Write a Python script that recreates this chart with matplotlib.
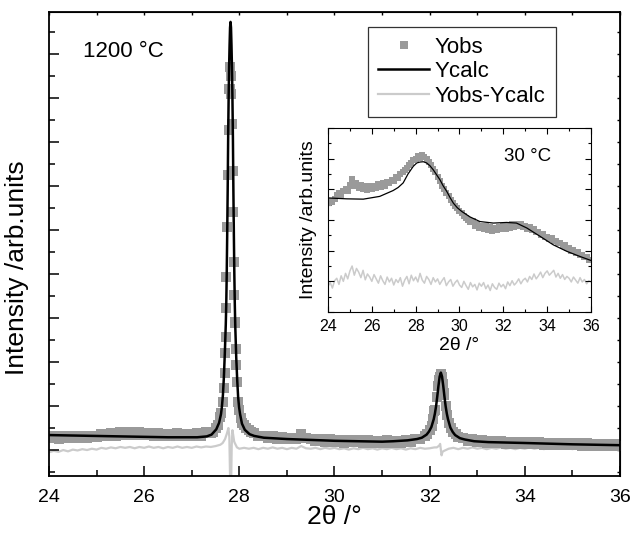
import numpy as np
import matplotlib
matplotlib.use('Agg')
import matplotlib.pyplot as plt
from matplotlib.ticker import MultipleLocator, NullFormatter

plt.rcParams['font.family'] = ['Liberation Sans', 'DejaVu Sans']

# ---- main pattern (1200 C), intensity in arbitrary units ----
grid = np.round(np.arange(24.0, 36.0001, 0.1), 2)

obs_grid = [
    0.28, 0.32, 0.26, 0.31, 0.27, 0.33, 0.28, 0.31, 0.27, 0.33,
    0.30, 0.36, 0.31, 0.39, 0.33, 0.40, 0.34, 0.41, 0.35, 0.40,
    0.34, 0.39, 0.33, 0.38, 0.32, 0.37, 0.33, 0.38, 0.31, 0.36,
    0.32, 0.38, 0.33, 0.40, 0.38, 0.50, 0.75, 2.20, 8.20, 2.90,
    0.90, 0.58, 0.45, 0.38, 0.31, 0.33, 0.27, 0.31, 0.25, 0.30,
    0.24, 0.28, 0.26, 0.36, 0.27, 0.25, 0.20, 0.25, 0.19, 0.24,
    0.18, 0.23, 0.17, 0.23, 0.18, 0.22, 0.17, 0.22, 0.16, 0.21,
    0.17, 0.22, 0.16, 0.21, 0.17, 0.23, 0.19, 0.26, 0.25, 0.33,
    0.45, 0.88, 1.60, 1.30, 0.62, 0.40, 0.30, 0.27, 0.21, 0.24,
    0.18, 0.22, 0.16, 0.21, 0.15, 0.20, 0.14, 0.19, 0.14, 0.19,
    0.13, 0.18, 0.13, 0.18, 0.12, 0.17, 0.12, 0.17, 0.11, 0.16,
    0.11, 0.15, 0.10, 0.15, 0.10, 0.14, 0.09, 0.14, 0.09, 0.13,
    0.10]

# extra observed points on the two peaks
obs_pk_x = [27.45, 27.55, 27.62, 27.65, 27.67, 27.69, 27.71, 27.72, 27.73,
            27.745, 27.76, 27.775, 27.79, 27.81, 27.82, 27.835, 27.85, 27.86,
            27.87, 27.88, 27.89, 27.90, 27.92, 27.94, 27.96, 27.98, 28.03,
            28.06, 28.15, 28.25,
            31.95, 32.05, 32.08, 32.12, 32.15, 32.18, 32.21, 32.24, 32.26,
            32.28, 32.31, 32.34, 32.37, 32.45, 32.55]
obs_pk_y = [0.42, 0.58, 0.85, 1.10, 1.40, 1.75, 2.57, 3.23, 3.93,
            5.07, 6.25, 7.27, 8.20, 8.70, 8.50, 8.10, 7.40, 6.35,
            5.41, 4.27, 3.52, 2.89, 2.30, 1.93, 1.55, 1.10, 0.72,
            0.62, 0.50, 0.42,
            0.36, 0.55, 0.70, 0.92, 1.20, 1.45, 1.65, 1.72, 1.66,
            1.50, 1.25, 1.00, 0.80, 0.50, 0.36]

calc_x = [24.0, 24.5, 25.0, 25.5, 26.0, 26.5, 27.0, 27.115, 27.315, 27.415,
          27.515, 27.575, 27.615, 27.635, 27.655, 27.675, 27.695, 27.715,
          27.725, 27.735, 27.745, 27.755, 27.765, 27.775, 27.785, 27.795,
          27.805, 27.815, 27.825, 27.835, 27.845, 27.855, 27.865, 27.875,
          27.885, 27.895, 27.905, 27.915, 27.935, 27.955, 27.975, 27.995,
          28.015, 28.055, 28.115, 28.215, 28.315, 28.515, 29.0, 29.5, 30.0,
          30.5, 31.0, 31.235, 31.535, 31.735, 31.835, 31.935, 31.985, 32.035,
          32.085, 32.11, 32.135, 32.16, 32.185, 32.21, 32.235, 32.26, 32.285,
          32.31, 32.335, 32.36, 32.385, 32.435, 32.485, 32.535, 32.635,
          32.735, 32.935, 33.235, 34.0, 35.0, 36.0]
calc_y = [0.34, 0.33, 0.32, 0.31, 0.30, 0.29, 0.29, 0.29, 0.31, 0.35,
          0.47, 0.62, 0.82, 1.00, 1.25, 1.65, 2.20, 2.85,
          3.30, 4.00, 4.90, 5.90, 7.10, 8.00, 8.70, 9.20,
          9.60, 9.73, 9.60, 9.20, 8.70, 8.00, 7.10, 5.90,
          4.90, 4.00, 3.30, 2.80, 2.10, 1.60, 1.20, 0.97,
          0.82, 0.60, 0.46, 0.36, 0.32, 0.28, 0.25, 0.23, 0.21,
          0.20, 0.19, 0.20, 0.22, 0.25, 0.28, 0.35, 0.42, 0.52,
          0.70, 0.83, 1.00, 1.22, 1.46, 1.67, 1.76, 1.67, 1.46,
          1.22, 1.00, 0.83, 0.70, 0.51, 0.41, 0.34, 0.27,
          0.24, 0.20, 0.18, 0.16, 0.13, 0.11]

diff_grid = [
    -0.05, -0.02, -0.04, 0.00, -0.03, 0.01, -0.01, 0.02, 0.00, 0.03,
    0.01, 0.05, 0.03, 0.06, 0.04, 0.07, 0.05, 0.07, 0.04, 0.07,
    0.05, 0.08, 0.05, 0.07, 0.04, 0.07, 0.05, 0.08, 0.05, 0.07,
    0.05, 0.08, 0.06, 0.08, 0.07, 0.09, 0.12, 0.25, -0.30, 0.17,
    0.03, 0.05, 0.03, 0.05, 0.02, 0.05, 0.03, 0.06, 0.03, 0.05,
    0.02, 0.05, 0.03, 0.09, 0.04, 0.03, 0.05, 0.02, 0.05, 0.03,
    0.05, 0.02, 0.04, 0.01, 0.04, 0.02, 0.05, 0.02, 0.04, 0.01,
    0.04, 0.02, 0.05, 0.02, 0.04, 0.01, 0.04, 0.02, 0.05, 0.03,
    0.04, 0.06, 0.10, -0.02, 0.03, 0.05, 0.02, 0.05, 0.03, 0.06,
    0.03, 0.05, 0.02, 0.05, 0.03, 0.06, 0.03, 0.05, 0.02, 0.05,
    0.03, 0.06, 0.03, 0.05, 0.02, 0.05, 0.03, 0.06, 0.03, 0.05,
    0.02, 0.05, 0.03, 0.06, 0.02, 0.04, 0.03, 0.05, 0.02, 0.04,
    0.03]
diff_pk_x = [27.65, 27.74, 27.77, 27.79, 27.81, 27.82, 27.83, 27.84, 27.855,
             27.87, 27.89, 27.95, 32.15, 32.22, 32.25, 32.27]
diff_pk_y = [0.16, 0.38, 0.50, 0.30, -0.90, -1.10, -0.60, 0.10, 0.45,
             0.35, 0.20, 0.06, 0.06, 0.14, -0.12, -0.04]

# ---- inset pattern (30 C) ----
in_obs = [
    3.55, 3.62, 3.58, 3.70, 3.80, 3.88, 3.82, 3.95, 4.02, 3.96,
    4.15, 4.35, 4.10, 4.22, 4.05, 4.15, 4.02, 4.12, 3.98, 4.10,
    4.00, 4.12, 4.05, 4.18, 4.08, 4.20, 4.12, 4.25, 4.20, 4.32,
    4.28, 4.40, 4.38, 4.50, 4.55, 4.62, 4.70, 4.78, 4.85, 4.95,
    4.98, 5.08, 5.02, 5.12, 5.05, 4.98, 4.88, 4.80, 4.65, 4.55,
    4.40, 4.28, 4.12, 4.00, 3.88, 3.78, 3.65, 3.55, 3.45, 3.38,
    3.30, 3.22, 3.12, 3.05, 3.00, 2.92, 2.98, 2.82, 2.88, 2.75,
    2.82, 2.70, 2.80, 2.68, 2.76, 2.65, 2.74, 2.66, 2.78, 2.70,
    2.80, 2.72, 2.84, 2.75, 2.86, 2.78, 2.88, 2.80, 2.86, 2.78,
    2.82, 2.72, 2.76, 2.68, 2.70, 2.60, 2.62, 2.52, 2.55, 2.45,
    2.46, 2.38, 2.40, 2.30, 2.32, 2.24, 2.25, 2.15, 2.18, 2.08,
    2.10, 2.00, 2.02, 1.92, 1.95, 1.85, 1.87, 1.78, 1.80, 1.70,
    1.68]
in_calc_x = [24.0, 24.85, 25.61, 26.36, 26.97, 27.2, 27.43, 27.65, 27.89,
             28.05, 28.2, 28.35, 28.5, 28.65, 28.8, 28.95, 29.11, 29.25,
             29.42, 29.57, 29.72, 29.9, 30.1, 30.48, 30.93, 31.54, 32.15,
             32.6, 33.07, 33.67, 34.28, 34.89, 35.5, 36.0]
in_calc_y = [3.72, 3.69, 3.68, 3.77, 3.96, 4.06, 4.21, 4.50, 4.75,
             4.86, 4.89, 4.90, 4.86, 4.77, 4.64, 4.48, 4.31, 4.12,
             3.93, 3.73, 3.55, 3.40, 3.28, 3.10, 2.95, 2.90, 2.92,
             2.90, 2.74, 2.47, 2.19, 1.98, 1.81, 1.68]
in_diff = [
    0.84, 0.96, 0.78, 1.02, 1.10, 0.90, 1.18, 1.00, 1.26, 1.08,
    1.34, 1.50, 1.20, 1.42, 1.30, 1.12, 1.36, 1.05, 1.24, 1.14,
    1.00, 1.22, 1.08, 0.94, 1.18, 1.02, 0.90, 1.14, 0.98, 1.10,
    0.88, 1.06, 0.96, 1.12, 0.84, 1.04, 1.16, 0.92, 1.20, 1.02,
    1.14, 0.98, 1.26, 1.04, 0.94, 1.16, 1.06, 0.90, 1.12, 0.98,
    1.08, 0.90, 1.02, 1.12, 0.86, 0.98, 1.06, 0.84, 0.96, 1.04,
    0.88, 0.80, 1.00, 0.86, 0.74, 0.96, 0.82, 0.90, 0.72, 0.94,
    0.84, 0.96, 0.76, 0.88, 0.70, 0.92, 0.80, 0.74, 0.94, 0.82,
    0.90, 0.76, 0.98, 0.86, 1.02, 0.88, 0.96, 1.08, 0.92, 1.04,
    1.10, 0.98, 1.16, 1.06, 1.24, 1.08, 1.18, 1.30, 1.12, 1.26,
    1.34, 1.20, 1.28, 1.36, 1.14, 1.26, 1.10, 1.22, 1.06, 1.16,
    1.10, 0.98, 1.14, 1.04, 0.94, 1.12, 0.98, 1.06, 0.92, 1.02,
    0.98]

obs_color = '#9a9a9a'
diff_color = '#cbcbcb'

# merge grid + peak points
ox = np.concatenate([grid, obs_pk_x])
oy = np.concatenate([obs_grid, obs_pk_y])
o = np.argsort(ox)
ox, oy = ox[o], oy[o]
dx = np.concatenate([grid, diff_pk_x])
dy = np.concatenate([diff_grid, diff_pk_y])
d = np.argsort(dx, kind='stable')
dx, dy = dx[d], dy[d]

fig = plt.figure(figsize=(6.32, 5.38), dpi=100)
ax = fig.add_axes([49/632, 1-476/538, 571/632, 464/538])

ax.plot(dx, dy, color=diff_color, lw=1.6, label='Yobs-Ycalc', zorder=1)
ax.plot(ox, oy, 's', color=obs_color, ms=6.6, mew=0, label='Yobs', zorder=2)
ax.plot(calc_x, calc_y, color='black', lw=1.8, label='Ycalc', zorder=3)

ax.set_xlim(24, 36)
ax.set_ylim(-0.59, 9.955)
ax.xaxis.set_major_locator(MultipleLocator(2))
ax.xaxis.set_minor_locator(MultipleLocator(1))
ax.yaxis.set_major_locator(MultipleLocator(1))
ax.yaxis.set_minor_locator(MultipleLocator(0.5))
ax.yaxis.set_major_formatter(NullFormatter())
ax.tick_params(which='both', direction='in', width=1.1, labelsize=14, pad=9)
ax.tick_params(which='major', length=7)
ax.tick_params(which='minor', length=4)
for s in ax.spines.values():
    s.set_linewidth(1.3)

top = ax.secondary_xaxis('top')
top.xaxis.set_major_locator(MultipleLocator(1))
top.tick_params(direction='in', length=2.5, width=1, labeltop=False)
right = ax.secondary_yaxis('right')
right.yaxis.set_major_locator(MultipleLocator(0.5))
right.tick_params(direction='in', length=2.5, width=1, labelright=False)

ax.set_xlabel('2\u03b8 /\u00b0', fontsize=19, labelpad=0)
ax.set_ylabel('Intensity /arb.units', fontsize=19, labelpad=6)
ax.yaxis.set_label_coords(-0.035, 0.45)
ax.text(0.06, 0.915, '1200 \u00b0C', transform=ax.transAxes, fontsize=16,
        va='center', ha='left')

h, l = ax.get_legend_handles_labels()
order = [1, 2, 0]
leg = ax.legend([h[i] for i in order], [l[i] for i in order],
                loc='upper left', bbox_to_anchor=(0.559, 0.968),
                borderaxespad=0, fontsize=16, handlelength=2.3,
                labelspacing=0.15, borderpad=0.45, handletextpad=0.25,
                fancybox=False, framealpha=1, edgecolor='#333333',
                markerscale=0.9)
leg.get_frame().set_linewidth(0.9)

# ---- inset ----
ins = fig.add_axes([328/632, 1-312/538, 263/632, 184/538])
ins.plot(grid, in_diff, color=diff_color, lw=1.1, zorder=1)
ins.plot(grid, in_obs, 's', color=obs_color, ms=3.8, mew=0, zorder=2)
ins.plot(in_calc_x, in_calc_y, color='black', lw=0.9, zorder=3)
ins.set_xlim(24, 36)
ins.set_ylim(0, 6)
ins.xaxis.set_major_locator(MultipleLocator(2))
ins.xaxis.set_minor_locator(MultipleLocator(1))
ins.yaxis.set_major_locator(MultipleLocator(1))
ins.yaxis.set_minor_locator(MultipleLocator(0.5))
ins.yaxis.set_major_formatter(NullFormatter())
ins.tick_params(which='both', direction='in', top=True, right=True,
                width=0.8, labelsize=11.5, pad=5)
ins.tick_params(which='major', length=4)
ins.tick_params(which='minor', length=2.5)
for s in ins.spines.values():
    s.set_linewidth(0.8)
ins.set_xlabel('2\u03b8 /\u00b0', fontsize=14, labelpad=2)
ins.set_ylabel('Intensity /arb.units', fontsize=14, labelpad=3)
ins.text(0.67, 0.845, '30 \u00b0C', transform=ins.transAxes, fontsize=13.5,
         va='center', ha='left')

fig.savefig('out.png', dpi=100)
